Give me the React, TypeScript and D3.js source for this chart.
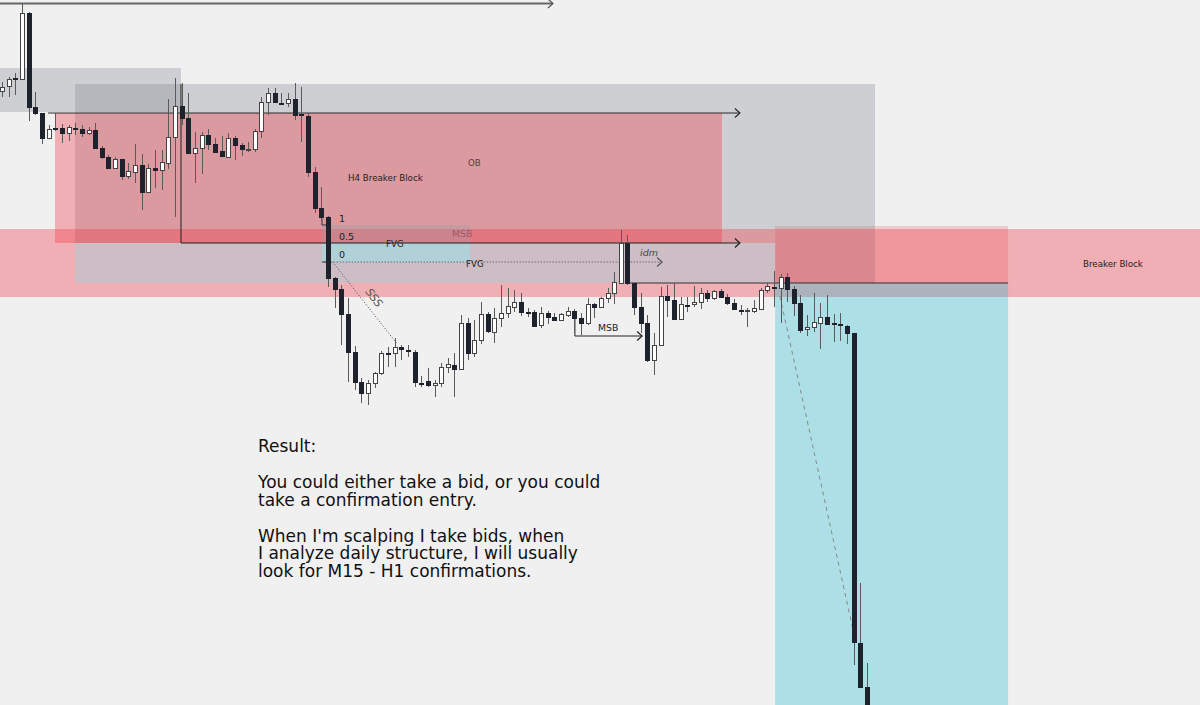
import React from 'react';
import * as d3 from 'd3';

// ---- candle data (price points) ----
const open = [614,619,627,626,692,598,592,567,577,577,572,577,576,572,575,557,548,537,546,529,533,540,513,537,535,542,568,599,587,552,557,570,561,554,548,567,560,555.5,556,574,603,612,602.5,602,606,590.5,589,533,497,488,427,416,391,353,323,312,322,332,352.5,352,358,355.5,353,322.5,324,320,322,338,340,336,382,352,365,391,373,387,392,398,403,393.5,393,380,392,388,385,390,394,387,382,401,398,407,412,422,462,422,398,382,345,360,409,405,386,400.5,401,403,412,407,414,408,402,395.5,394.5,394,396,415,418.5,417,428,416,402,376,378,382,388,382,381,379,372,62,18];
const high = [623,628,632,702,693,613,592,580,592,581,580,582,580,578,582,559,550,548,546,542,561,551,541,555,555,606,627,622,612,573,573,576,567,569,572,569,562,563,576,608,617,617,612,612,622,618,592,538,518,489,428,420,407,359,327,325,333,354,358,367,360,360,355,329,337,325,342,347,352,390,387,385,403,393,397,420,417,415,412,397,395,398,394,392,392,398,396,392,407,402,408,417,433,475,470,422,412,390,372,418,420,422,408,408,419,417,415,415,416,411,406,400,397,405,417,422,434,431,432,419,410,390,412,402,410,391,392,380,372,122,42];
const low = [608,608,610,625,584,590,561,566,574,562,564,570,568,570,556,546,537,537,525,526,522,495,512,517,515,536,488,580,552,522,531,555,552,548,548,545,549,553,553,567,590,602,602,598,585,563,528,492,485,418,397,360,323,315,302,300,317,330,338,338,345,348,318,318,318,308,318,332,308,335,345,348,361,372,362,378,387,393,389,388,378,377,381,384,384,388,372,370,380,387,397,402,401,422,420,390,372,343,330,359,388,385,385,393,398,396,403,405,408,400,395,390,378,392,395,412,398,382,403,389,372,369,373,356,380,363,364,361,40,17,-7];
const close = [618,626,626,692,598,592,567,576,576,572,578,576,572,575,557,548,537,546,529,534,540,513,537,535,543,568,599,587,552,557,570,561,553,549,567,560,556,556.5,574,603,612,603,601.5,606,590,589.5,533,497,488,427,416,391,353,323,312,322,332,352,351.5,358,356,354.5,323,321.5,320,322,338,341,336,382,352,365,391,374,387,392,399,403,393,392.5,379,392,388,385,391,394,387,382,401,398,407,412,423,462,422,398,382,345,360,409,405,386,401,399.5,403,412,407,414,408,402,396,394.5,395.5,397,415,419,417.5,428,416,402,375,378,383,388,381,381,380,372,63,18,-7];

// ---- zones (candle index / price points) ----
const grayZones = [
  { i0: -1, i1: 26.9, p0: 637, p1: 593 },
  { i0: 10.97, i1: 131.2, p0: 621, p1: 422 },
];
const h4Breaker = { i0: 7.97, i1: 108.2, p0: 592, p1: 462 };
const breakerBand = { i0: -1, i1: 181, p0: 476, p1: 408 };
const fvgZone = { i0: 10.97, i1: 116.2, p0: 462, p1: 422 };
const fibRange = { i0: 48.09, i1: 70.33, level1: 480, level0: 443 };
const stopZone = { i0: 116.2, i1: 151.2, p0: 479, p1: 422 };
const targetZone = { i0: 116.2, i1: 151.2, p0: 422, p1: -10 };

// lines: [index, price] points
const topArrow = [[-1, 701.5], [82.8, 701.5]];
const obArrow = [[6.91, 592], [110.9, 592]];
const msbUpper = [[26.9, 621], [26.9, 462], [110.9, 462]];
const idmLine = [[48.5, 443], [99.2, 443]];
const entryLine = [[93.6, 422], [151.2, 422]];
const msbLower = [[86.1, 393], [86.1, 369], [96.2, 369]];
const sssLine = [[49.7, 443], [59.4, 361]];
const targetPath = [[116.9, 409], [128.3, 63]];

const resultLines = [
  'Result:',
  '',
  'You could either take a bid, or you could',
  'take a confirmation entry.',
  '',
  "When I'm scalping I take bids, when",
  'I analyze daily structure, I will usually',
  'look for M15 - H1 confirmations.',
];

const W = 1200;
const H = 705;

export default function App() {
  const x = d3.scaleLinear().domain([0, 130]).range([2, 867]);
  const y = d3.scaleLinear().domain([0, 705]).range([705, 0]);
  const line = d3.line<number[]>().x((d) => x(d[0])).y((d) => y(d[1]));

  const rect = (z: { i0: number; i1: number; p0: number; p1: number }, fill: string, key: string) => (
    <rect key={key} x={x(z.i0)} y={y(z.p0)} width={x(z.i1) - x(z.i0)} height={y(z.p1) - y(z.p0)} fill={fill} />
  );

  const arrowHead = (pts: number[][], color: string, key: string) => {
    const p = pts[pts.length - 1];
    const tx = x(p[0]);
    const ty = y(p[1]);
    return <path key={key} d={`M${tx - 5},${ty - 4.5}L${tx},${ty}L${tx - 5},${ty + 4.5}`} fill="none" stroke={color} strokeWidth={1.2} />;
  };

  const fibMid = (fibRange.level1 + fibRange.level0) / 2;
  const font = 'DejaVu Sans, Verdana, sans-serif';

  return (
    <div style={{ position: 'fixed', left: 0, top: 0, width: W, height: H }}>
      <svg width={W} height={H} style={{ display: 'block' }}>
        <rect x={0} y={0} width={W} height={H} fill="#f0f0f0" />
        {/* zones */}
        {rect(stopZone, 'rgba(242,54,69,0.2)', 'stop')}
        {grayZones.map((z, k) => rect(z, 'rgba(120,123,134,0.28)', 'g' + k))}
        {rect(h4Breaker, 'rgba(242,54,69,0.35)', 'h4')}
        {rect(breakerBand, 'rgba(242,54,69,0.35)', 'band')}
        {rect(fvgZone, 'rgba(191,224,233,0.5)', 'fvg')}
        {rect({ i0: fibRange.i0, i1: fibRange.i1, p0: fibRange.level1, p1: fibMid }, 'rgba(150,160,170,0.3)', 'fibU')}
        {rect({ i0: fibRange.i0, i1: fibRange.i1, p0: fibMid, p1: fibRange.level0 }, 'rgba(150,230,235,0.5)', 'fibL')}
        {rect(targetZone, 'rgba(20,190,210,0.3)', 'target')}

        {/* fib ticks */}
        <path d={`M${x(fibRange.i0)},${y(fibRange.level1) - 6}V${y(fibRange.level1)}H${x(fibRange.i0) + 8}`} fill="none" stroke="#333" strokeWidth={1} />
        <path d={`M${x(fibRange.i0)},${y(fibRange.level0)}H${x(fibRange.i0) + 8}`} fill="none" stroke="#333" strokeWidth={1} />

        {/* lines */}
        <path d={line(topArrow as any) || ''} fill="none" stroke="#666" strokeWidth={2} />
        {arrowHead(topArrow, '#555', 'ta')}
        <path d={line(obArrow as any) || ''} fill="none" stroke="#2b2b2b" strokeWidth={1} />
        {arrowHead(obArrow, '#2b2b2b', 'oba')}
        <path d={line(msbUpper as any) || ''} fill="none" stroke="#222" strokeWidth={1} />
        {arrowHead(msbUpper, '#222', 'msa')}
        <path d={line(idmLine as any) || ''} fill="none" stroke="#444" strokeWidth={1} strokeDasharray="1,2" />
        {arrowHead(idmLine, '#555', 'ida')}
        <path d={line(entryLine as any) || ''} fill="none" stroke="#333" strokeWidth={1} />
        <path d={line(msbLower as any) || ''} fill="none" stroke="#222" strokeWidth={1} />
        {arrowHead(msbLower, '#222', 'mla')}
        <path d={line(sssLine as any) || ''} fill="none" stroke="#444" strokeWidth={1} strokeDasharray="1,2" />
        <path d={line(targetPath as any) || ''} fill="none" stroke="#888" strokeWidth={1} strokeDasharray="4,4" />

        {/* candles */}
        {open.map((o, i) => {
          const c = close[i];
          const cx = Math.round(x(i));
          const bull = c > o;
          const top = Math.round(y(Math.max(o, c)));
          const bot = Math.round(y(Math.min(o, c)));
          const hgt = Math.max(1, bot - top);
          return (
            <g key={i}>
              <line x1={cx + 0.5} x2={cx + 0.5} y1={y(high[i])} y2={y(low[i])} stroke="#5a5a5a" strokeWidth={1} />
              <rect x={cx - 1.5} y={top + 0.5} width={4} height={hgt} fill={bull ? '#ffffff' : '#1e222d'} stroke={bull ? '#444' : '#1e222d'} strokeWidth={1} />
            </g>
          );
        })}

        {/* labels */}
        <g fontFamily={font} fontSize={8.7}>
          <text x={348} y={181} fill="#222">H4 Breaker Block</text>
          <text x={468} y={166} fill="#6a3440">OB</text>
          <text x={339} y={222} fill="#222" fontSize={9.5}>1</text>
          <text x={339} y={240} fill="#222" fontSize={9.5}>0.5</text>
          <text x={339} y={258} fill="#222" fontSize={9.5}>0</text>
          <text x={386} y={247} fill="#222">FVG</text>
          <text x={452} y={237} fill="#a35867" fontSize={9.3}>MSB</text>
          <text x={466} y={267} fill="#222">FVG</text>
          <text x={640} y={256} fill="#444" fontStyle="italic" fontSize={9.5}>idm</text>
          <text x={598} y={331} fill="#222" fontSize={9.3}>MSB</text>
          <text x={1083} y={267} fill="#222">Breaker Block</text>
          <text x={0} y={0} fill="#555" fontStyle="italic" fontSize={11} transform="translate(365,292) rotate(52)">SSS</text>
        </g>

        {/* result text */}
        <g fontFamily={font} fontSize={17} fill="#111">
          {resultLines.map((t, k) => (
            <text key={k} x={258} y={452 + k * 17.9}>{t}</text>
          ))}
        </g>
      </svg>
    </div>
  );
}
